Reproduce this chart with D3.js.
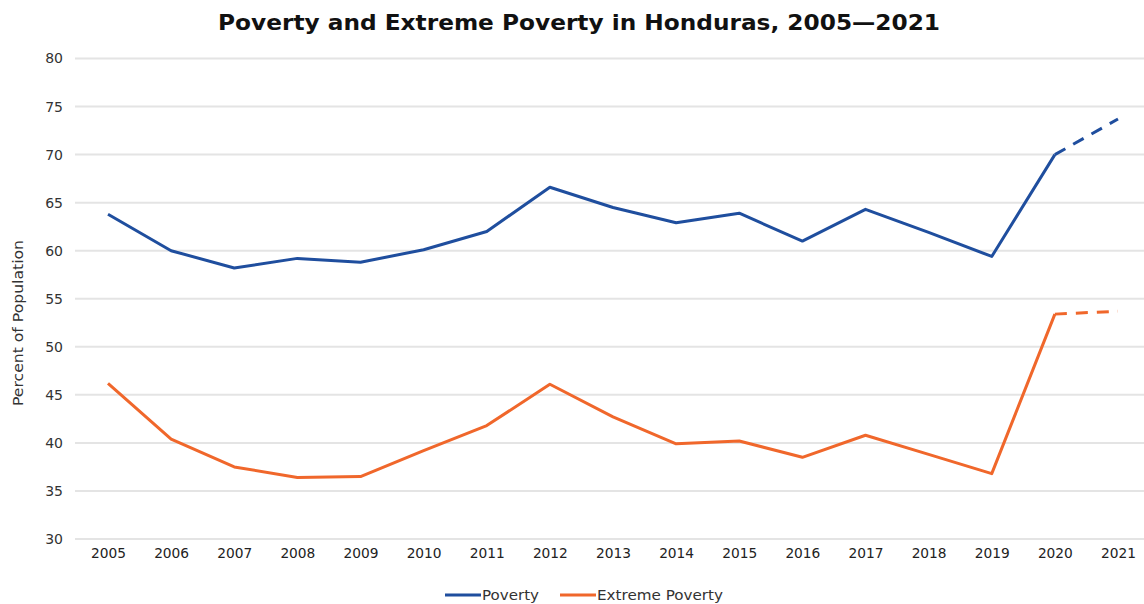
<!DOCTYPE html>
<html>
<head>
<meta charset="utf-8">
<script src="https://cdn.jsdelivr.net/npm/d3@7"></script>
<style>
  body { margin: 0; background: #fff; }
  svg { display: block; }
  text { font-family: "DejaVu Sans", Verdana, sans-serif; }
</style>
</head>
<body>
<div id="chart"></div>
<script>
const years = [2005, 2006, 2007, 2008, 2009, 2010, 2011, 2012, 2013, 2014, 2015, 2016, 2017, 2018, 2019, 2020, 2021]
const poverty = [63.8, 60.0, 58.2, 59.2, 58.8, 60.1, 62.0, 66.6, 64.5, 62.9, 63.9, 61.0, 64.3, 61.9, 59.4, 70.0, 73.7]
const extremePoverty = [46.2, 40.4, 37.5, 36.4, 36.5, 39.2, 41.8, 46.1, 42.7, 39.9, 40.2, 38.5, 40.8, 38.8, 36.8, 53.4, 53.7]
const yTicks = [30, 35, 40, 45, 50, 55, 60, 65, 70, 75, 80]
// years after this one are drawn dashed (estimates)
const lastActual = 2020

const width = 1144, height = 604
const colors = { poverty: `#1f4e9e`, extreme: `#f0672b` }

const svg = d3.select(`#chart`).append(`svg`).attr(`width`, width).attr(`height`, height)

const x = d3.scalePoint().domain(years).range([108, 1118])
const y = d3.scaleLinear().domain([30, 80]).range([539, 58.5])

// gridlines
svg.append(`g`).selectAll(`line`).data(yTicks).join(`line`)
    .attr(`x1`, 75).attr(`x2`, width)
    .attr(`y1`, d => y(d)).attr(`y2`, d => y(d))
    .attr(`stroke`, `#e4e4e4`).attr(`stroke-width`, 2)

// y axis labels
const yAxis = svg.append(`g`).attr(`transform`, `translate(63,0)`)
    .call(d3.axisLeft(y).tickValues(yTicks).tickSize(0).tickPadding(0))
yAxis.select(`.domain`).remove()
yAxis.selectAll(`text`).attr(`font-size`, 14).attr(`fill`, `#333`).attr(`font-family`, `"DejaVu Sans", sans-serif`)

// x axis labels
const xAxis = svg.append(`g`).attr(`transform`, `translate(0,548)`)
    .call(d3.axisBottom(x).tickSize(0).tickPadding(0).tickFormat(d3.format(`d`)))
xAxis.select(`.domain`).remove()
xAxis.selectAll(`text`).attr(`font-size`, 13.5).attr(`fill`, `#222`).attr(`font-family`, `"DejaVu Sans", sans-serif`)
    .attr(`textLength`, 35).attr(`lengthAdjust`, `spacingAndGlyphs`)

// title
svg.append(`text`).attr(`x`, 579).attr(`y`, 30).attr(`text-anchor`, `middle`)
    .attr(`font-size`, 22).attr(`font-weight`, `bold`).attr(`fill`, `#111`)
    .attr(`textLength`, 722).attr(`lengthAdjust`, `spacingAndGlyphs`)
    .text(`Poverty and Extreme Poverty in Honduras, 2005\u20142021`)

// y axis title
svg.append(`text`).attr(`transform`, `translate(23,323) rotate(-90)`).attr(`text-anchor`, `middle`)
    .attr(`font-size`, 13.5).attr(`fill`, `#333`)
    .attr(`textLength`, 166).attr(`lengthAdjust`, `spacingAndGlyphs`)
    .text(`Percent of Population`)

const line = d3.line().x(d => x(d[0])).y(d => y(d[1]))

const series = [
    { name: `Poverty`, values: poverty, color: colors.poverty },
    { name: `Extreme Poverty`, values: extremePoverty, color: colors.extreme }
]

series.forEach(s => {
    const pts = years.map((yr, i) => [yr, s.values[i]])
    const solid = pts.filter(p => p[0] <= lastActual)
    const dashed = pts.filter(p => p[0] >= lastActual)

    svg.append(`path`).attr(`d`, line(solid)).attr(`fill`, `none`)
        .attr(`stroke`, s.color).attr(`stroke-width`, 3).attr(`stroke-linejoin`, `round`)
    svg.append(`path`).attr(`d`, line(dashed)).attr(`fill`, `none`)
        .attr(`stroke`, s.color).attr(`stroke-width`, 3)
        .attr(`stroke-dasharray`, `12,9`)
})

// legend
const legend = svg.append(`g`)
const legendItems = [
    { name: `Poverty`, color: colors.poverty, x: 445, w: 57 },
    { name: `Extreme Poverty`, color: colors.extreme, x: 560, w: 126 }
]
legendItems.forEach(l => {
    legend.append(`line`).attr(`x1`, l.x).attr(`x2`, l.x + 36).attr(`y1`, 595).attr(`y2`, 595)
        .attr(`stroke`, l.color).attr(`stroke-width`, 3)
    legend.append(`text`).attr(`x`, l.x + 37).attr(`y`, 600)
        .attr(`font-size`, 13.5).attr(`fill`, `#333`)
        .attr(`textLength`, l.w).attr(`lengthAdjust`, `spacingAndGlyphs`)
        .text(l.name)
})
</script>
</body>
</html>
